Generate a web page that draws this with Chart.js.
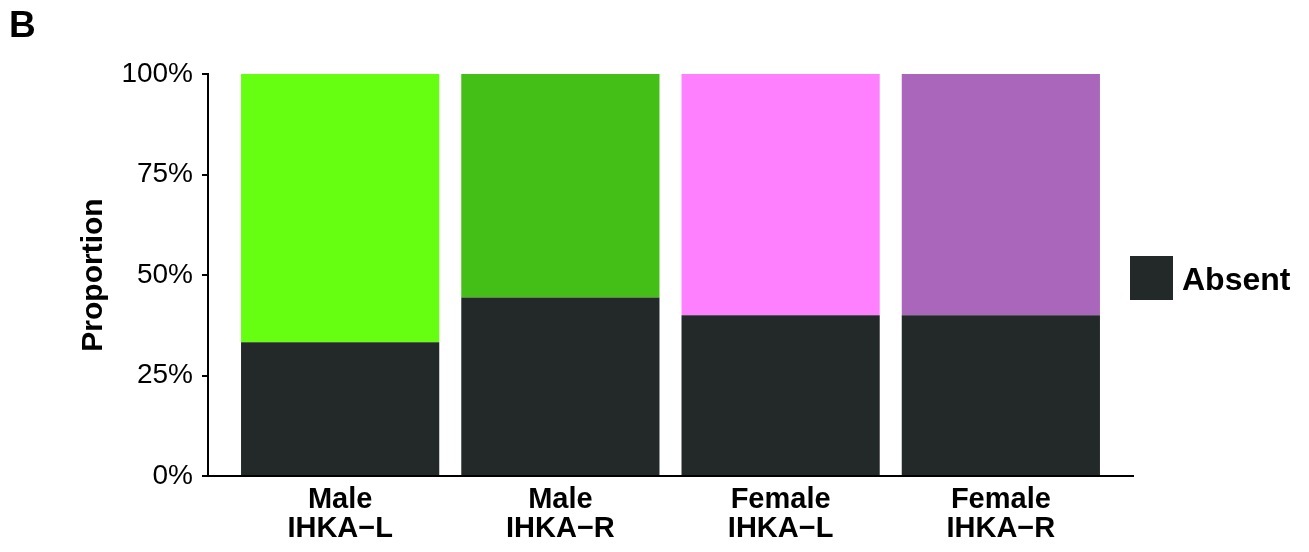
<!DOCTYPE html>
<html>
<head>
<meta charset="utf-8">
<script src="https://cdn.jsdelivr.net/npm/chart.js@4"></script>
<style>
  html, body { margin: 0; padding: 0; background: #fff; }
  #wrap { position: relative; width: 1309px; height: 552px; }
  #panel { position: absolute; left: 9px; top: 4px; font: bold 37px "Liberation Sans", Arial, sans-serif; color: #000; }
  canvas { position: absolute; left: 0; top: 0; }
</style>
</head>
<body>
<div id="wrap">
  <canvas id="propChart" width="1309" height="552"></canvas>
  <div id="panel">B</div>
</div>
<script>
// Groups along the x axis (two-line labels)
const groups = [
    ['Male', 'IHKA\u2212L'],
    ['Male', 'IHKA\u2212R'],
    ['Female', 'IHKA\u2212L'],
    ['Female', 'IHKA\u2212R']
];
// Proportion absent / present per group
const absent = [0.333, 0.444, 0.40, 0.40];
const present = [0.667, 0.556, 0.60, 0.60];
const presentColours = ['#66ff11', '#43bf17', '#ff80ff', '#aa66ba'];
const yTicks = [0, 0.25, 0.5, 0.75, 1];

const FONT = '"Liberation Sans", Arial, sans-serif';
Chart.defaults.font.family = FONT;
Chart.defaults.color = '#000';

// Key for the "Absent" series only, drawn to the right of the plot
const absentKey = {
    id: 'absentKey',
    afterDraw(chart) {
        const ds = chart.data.datasets[0];
        const { ctx, chartArea } = chart;
        const mid = (chartArea.top + chartArea.bottom) / 2;
        ctx.save();
        ctx.fillStyle = ds.backgroundColor;
        ctx.fillRect(chartArea.right - 3, mid - 19, 43, 44);
        ctx.fillStyle = '#000';
        ctx.font = 'bold 32px ' + FONT;
        ctx.textBaseline = 'alphabetic';
        ctx.fillText(ds.label, chartArea.right + 49, mid + 15);
        ctx.restore();
    }
};

const points = arr => arr.map((v, i) => ({ x: i, y: v }));

const ctx = document.getElementById('propChart').getContext('2d');
new Chart(ctx, {
    type: 'bar',
    data: {
        datasets: [{
            label: 'Absent',
            data: points(absent),
            backgroundColor: '#232829',
            barPercentage: 0.9,
            categoryPercentage: 1,
            borderWidth: 0
        }, {
            label: 'Present',
            data: points(present),
            backgroundColor: presentColours,
            barPercentage: 0.9,
            categoryPercentage: 1,
            borderWidth: 0
        }]
    },
    options: {
        responsive: false,
        animation: false,
        layout: { padding: { top: 74, right: 176, bottom: 0, left: 0 } },
        plugins: {
            legend: { display: false },
            tooltip: { enabled: false }
        },
        scales: {
            x: {
                type: 'linear',
                stacked: true,
                offset: false,
                min: -0.6,
                max: 3.6,
                afterBuildTicks: s => { s.ticks = groups.map((g, i) => ({ value: i })); },
                afterFit: s => { s.height = 76; },
                grid: { display: false, drawTicks: false },
                border: { display: true, color: '#000', width: 2 },
                ticks: {
                    padding: 9,
                    autoSkip: false,
                    maxRotation: 0,
                    font: { size: 29, weight: 'bold', lineHeight: 1.02 },
                    callback: v => groups[v]
                }
            },
            y: {
                stacked: true,
                min: 0,
                max: 1,
                afterBuildTicks: s => { s.ticks = yTicks.map(v => ({ value: v })); },
                afterFit: s => { s.width = 208; },
                grid: { drawOnChartArea: false, drawTicks: true, tickLength: 6, color: '#000', lineWidth: 2 },
                border: { display: true, color: '#000', width: 2 },
                ticks: {
                    padding: 9,
                    font: { size: 28 },
                    callback: v => Math.round(v * 100) + '%'
                },
                title: {
                    display: true,
                    text: 'Proportion',
                    font: { size: 30, weight: 'bold', lineHeight: 1 },
                    padding: { top: 79, bottom: 0 }
                }
            }
        }
    },
    plugins: [absentKey]
});
</script>
</body>
</html>
